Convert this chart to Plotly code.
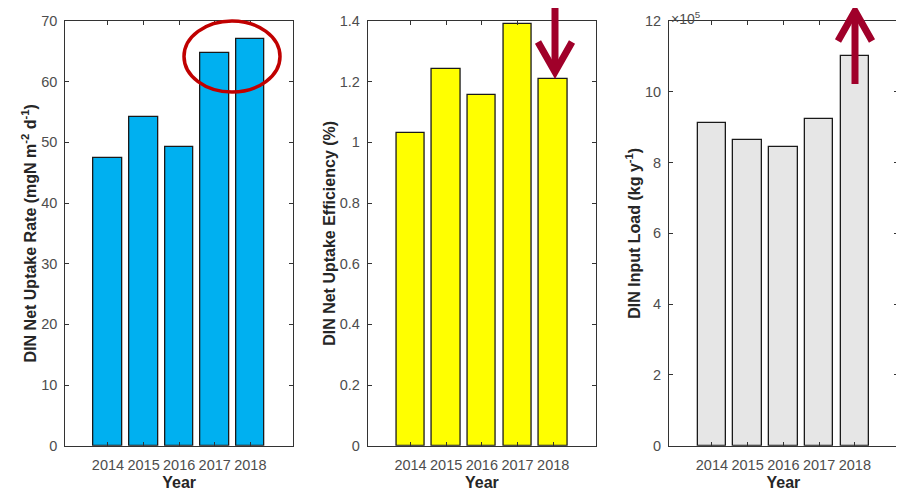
import plotly.graph_objects as go

# ---- data ----
years = [2014, 2015, 2016, 2017, 2018]
uptake_rate = [47.4, 54.2, 49.3, 64.7, 67.0]          # mgN m-2 d-1
uptake_eff = [1.03, 1.242, 1.156, 1.389, 1.208]         # %
input_load = [911000, 864000, 845000, 922000, 1100000]  # kg y-1
load_tickvals = [0, 200000, 400000, 600000, 800000, 1000000, 1200000]
load_ticktext = ["0", "2", "4", "6", "8", "10", "12"]

# page body has an 8px default margin; the figure is sized to fill the rest
OFF = 8
W, H = 904 - OFF, 493 - OFF
FONT = "Liberation Sans, Arial, Helvetica, sans-serif"
AX = "#333333"
TICKC = "#4d4d4d"
TITC = "#262626"

fig = go.Figure()

panels = [
    (uptake_rate, "#00B0F0", "x", "y"),
    (uptake_eff, "#FFFF00", "x2", "y2"),
    (input_load, "#E6E6E6", "x3", "y3"),
]
for vals, col, xa, ya in panels:
    fig.add_trace(go.Bar(x=years, y=vals, width=0.8, xaxis=xa, yaxis=ya,
                         marker=dict(color=col, line=dict(color="#1a1a1a", width=1.3)),
                         showlegend=False, hoverinfo="x+y"))

def px_x(p):
    return (p - OFF) / W

def px_y(p):
    return 1 - (p - OFF) / H

ydom = [px_y(445.7), px_y(21)]
xdoms = [[px_x(65.3), px_x(293)], [px_x(367.7), px_x(596)], [px_x(669), px_x(897.7)]]

common_x = dict(range=[2012.8, 2019.2], tickvals=years, ticks="inside", ticklen=4,
                tickcolor=AX, showline=True, linecolor=AX, linewidth=1, mirror="ticks",
                showgrid=False, zeroline=False, ticklabelstandoff=6, automargin=False,
                tickfont=dict(family=FONT, size=14.5, color=TICKC),
                title=dict(text="<b>Year</b>", font=dict(family=FONT, size=16, color=TITC), standoff=4))
common_y = dict(ticks="inside", ticklen=4, tickcolor=AX, showline=True, linecolor=AX,
                linewidth=1, mirror="ticks", showgrid=False, zeroline=False,
                ticklabelstandoff=4, automargin=False,
                tickfont=dict(family=FONT, size=14.5, color=TICKC))

ytitles = [
    "<b>DIN Net Uptake Rate (mgN m<sup>-2</sup> d<sup>-1</sup>)</b>",
    "<b>DIN Net Uptake Efficiency (%)</b>",
    "<b>DIN Input Load (kg y<sup>-1</sup>)</b>",
]
yextra = [
    dict(range=[0, 70], dtick=10),
    dict(range=[0, 1.4], dtick=0.2),
    dict(range=[0, 1200000], tickvals=load_tickvals, ticktext=load_ticktext),
]

layout = dict(width=W, height=H, margin=dict(l=0, r=0, t=0, b=0, autoexpand=False),
              paper_bgcolor="white", plot_bgcolor="white", bargap=0,
              font=dict(family=FONT))
for i in range(3):
    sfx = "" if i == 0 else str(i + 1)
    xa = dict(common_x, domain=xdoms[i], anchor="y" + sfx)
    ya = dict(common_y, domain=ydom, anchor="x" + sfx, **yextra[i])
    ya["title"] = dict(text=ytitles[i], font=dict(family=FONT, size=16, color=TITC), standoff=0)
    layout["xaxis" + sfx] = xa
    layout["yaxis" + sfx] = ya
fig.update_layout(**layout)

# x10^5 exponent label
fig.add_annotation(xref="paper", yref="paper", x=px_x(670), y=1, text="×10<sup>5</sup>",
                   showarrow=False, xanchor="left", yanchor="top", borderpad=0,
                   font=dict(family=FONT, size=14, color=TICKC))

# decorations: ellipse and arrows
RED = "#C00000"
ARROW = "#A0002A"
fig.add_shape(type="circle", xref="paper", yref="paper",
              x0=px_x(184), x1=px_x(280), y0=px_y(92), y1=px_y(21),
              line=dict(color=RED, width=3.5))
# down arrow (panel 2)
fig.add_shape(type="line", xref="paper", yref="paper",
              x0=px_x(555), x1=px_x(555), y0=px_y(OFF), y1=px_y(70),
              line=dict(color=ARROW, width=7))
fig.add_shape(type="path", xref="paper", yref="paper",
              path=f"M {px_x(538)},{px_y(42)} L {px_x(555)},{px_y(72)} L {px_x(572)},{px_y(42)}",
              line=dict(color=ARROW, width=7))
# up arrow (panel 3)
fig.add_shape(type="line", xref="paper", yref="paper",
              x0=px_x(855), x1=px_x(855), y0=px_y(84), y1=px_y(12),
              line=dict(color=ARROW, width=7))
fig.add_shape(type="path", xref="paper", yref="paper",
              path=f"M {px_x(838)},{px_y(41)} L {px_x(855)},{px_y(11)} L {px_x(872)},{px_y(41)}",
              line=dict(color=ARROW, width=7))

fig.write_html("out.html")
